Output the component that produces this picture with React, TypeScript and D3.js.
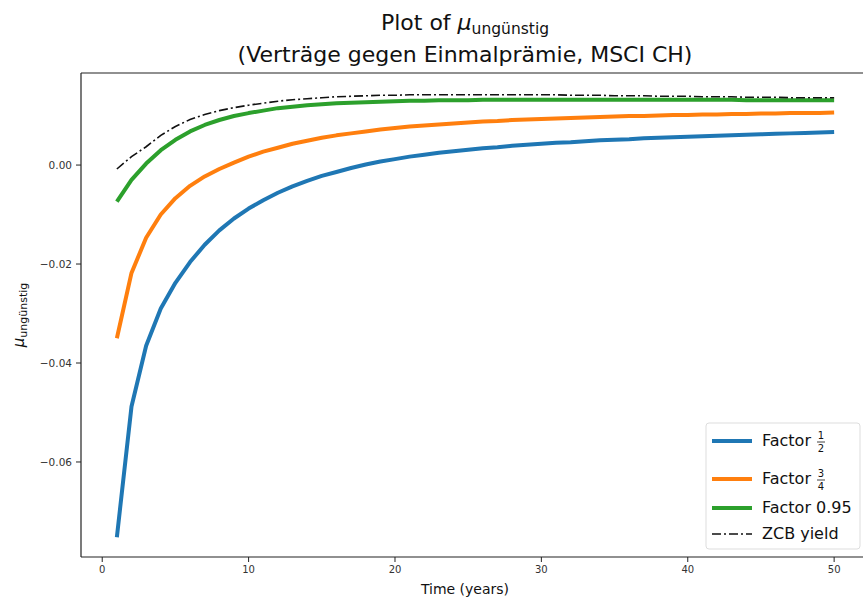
import React from 'react';
import * as d3 from 'd3';

// years 1..50
const years = d3.range(1, 51);

const factorHalf = [
  -0.0752, -0.0488, -0.0365, -0.029, -0.0238, -0.0196, -0.0161, -0.0132, -0.0108, -0.0088,
  -0.0071, -0.0056, -0.0043, -0.0032, -0.0022, -0.0014, -0.0006, 0.0001, 0.0007, 0.0012,
  0.0017, 0.0021, 0.0025, 0.0028, 0.0031, 0.0034, 0.0036, 0.0039, 0.0041, 0.0043,
  0.0045, 0.0046, 0.0048, 0.005, 0.0051, 0.0052, 0.0054, 0.0055, 0.0056, 0.0057,
  0.0058, 0.0059, 0.006, 0.0061, 0.0062, 0.0063, 0.0064, 0.0065, 0.0066, 0.0067,
];

const factorThreeQuarter = [
  -0.035, -0.0218, -0.0147, -0.01, -0.0067, -0.0042, -0.0023, -0.0008, 0.0005, 0.0017,
  0.0027, 0.0035, 0.0043, 0.0049, 0.0055, 0.006, 0.0064, 0.0068, 0.0072, 0.0075,
  0.0078, 0.008, 0.0082, 0.0084, 0.0086, 0.0088, 0.0089, 0.0091, 0.0092, 0.0093,
  0.0094, 0.0095, 0.0096, 0.0097, 0.0098, 0.0099, 0.0099, 0.01, 0.0101, 0.0101,
  0.0102, 0.0102, 0.0103, 0.0103, 0.0104, 0.0104, 0.0105, 0.0105, 0.0105, 0.0106,
];

const factor095 = [
  -0.0074, -0.003, 0.0003, 0.003, 0.0051, 0.0068, 0.0081, 0.0091, 0.0099, 0.0105,
  0.011, 0.0115, 0.0118, 0.0121, 0.0123, 0.0125, 0.0126, 0.0127, 0.0128, 0.0129,
  0.013, 0.013, 0.0131, 0.0131, 0.0131, 0.0132, 0.0132, 0.0132, 0.0132, 0.0132,
  0.0132, 0.0132, 0.0132, 0.0132, 0.0132, 0.0132, 0.0132, 0.0132, 0.0132, 0.0132,
  0.0132, 0.0132, 0.0132, 0.0131, 0.0131, 0.0131, 0.0131, 0.0131, 0.0131, 0.0131,
];

const zcbYield = [
  -0.0008, 0.0017, 0.0037, 0.006, 0.0078, 0.0092, 0.0102, 0.011, 0.0116, 0.0121,
  0.0125, 0.0129, 0.0132, 0.0134, 0.0136, 0.0138, 0.0139, 0.014, 0.0141, 0.0141,
  0.0142, 0.0142, 0.0142, 0.0142, 0.0142, 0.0142, 0.0142, 0.0142, 0.0142, 0.0142,
  0.0142, 0.0141, 0.0141, 0.0141, 0.014, 0.014, 0.014, 0.0139, 0.0139, 0.0139,
  0.0138, 0.0138, 0.0138, 0.0137, 0.0137, 0.0137, 0.0136, 0.0136, 0.0136, 0.0136,
];

const xTicks = [0, 10, 20, 30, 40, 50];
const yTicks = [0.0, -0.02, -0.04, -0.06];

const colors = ['#1f77b4', '#ff7f0e', '#2ca02c'];

const W = 863;
const H = 600;
const plot = { left: 81, top: 73, right: 870, bottom: 557 };
const FONT = 'DejaVu Sans, sans-serif';

export default function App() {
  const x = d3.scaleLinear().domain([-1.45, 52.45]).range([plot.left, plot.right]);
  const y = d3.scaleLinear().domain([-0.0792, 0.0186]).range([plot.bottom, plot.top]);

  const line = d3
    .line<number>()
    .x((_, i) => x(years[i]))
    .y((d) => y(d));

  const series = [factorHalf, factorThreeQuarter, factor095];

  // legend box
  const lx = 706;
  const ly = 423;

  return (
    <svg width={W} height={H} style={{ position: 'absolute', left: 0, top: 0, background: '#fff' }} fontFamily={FONT}>
      <rect width={W} height={H} fill="#fff" />
      <defs>
        <clipPath id="plotclip">
          <rect x={plot.left} y={plot.top} width={plot.right - plot.left} height={plot.bottom - plot.top} />
        </clipPath>
      </defs>

      {/* title */}
      <text x={465} y={30} textAnchor="middle" fontSize={22} fill="#111">
        Plot of <tspan fontStyle="italic">μ</tspan>
        <tspan fontSize={15.5} dy={4}>ungünstig</tspan>
      </text>
      <text x={465} y={62} textAnchor="middle" fontSize={22} fill="#111">
        (Verträge gegen Einmalprämie, MSCI CH)
      </text>

      {/* lines */}
      <g clipPath="url(#plotclip)">
        {series.map((s, i) => (
          <path key={i} d={line(s) || ''} fill="none" stroke={colors[i]} strokeWidth={4} strokeLinejoin="round" />
        ))}
        <path d={line(zcbYield) || ''} fill="none" stroke="#111" strokeWidth={1.6} strokeDasharray="9,3,2,3" />
      </g>

      {/* spines */}
      <line x1={plot.left} x2={plot.left} y1={plot.top} y2={plot.bottom} stroke="#222" strokeWidth={1.2} />
      <line x1={plot.left} x2={plot.right} y1={plot.top} y2={plot.top} stroke="#222" strokeWidth={1.2} />
      <line x1={plot.left} x2={plot.right} y1={plot.bottom} y2={plot.bottom} stroke="#222" strokeWidth={1.2} />

      {/* x axis */}
      {xTicks.map((t) => (
        <g key={t} transform={`translate(${x(t)},${plot.bottom})`}>
          <line y2={5} stroke="#222" />
          <text y={16} textAnchor="middle" fontSize={10} fill="#333">
            {t}
          </text>
        </g>
      ))}
      <text x={465} y={594} textAnchor="middle" fontSize={14} fill="#111">
        Time (years)
      </text>

      {/* y axis */}
      {yTicks.map((t) => (
        <g key={t} transform={`translate(${plot.left},${y(t)})`}>
          <line x2={-5} stroke="#222" />
          <text x={-9} dy="0.35em" textAnchor="end" fontSize={10.5} fill="#333">
            {t === 0 ? '0.00' : '\u2212' + Math.abs(t).toFixed(2)}
          </text>
        </g>
      ))}
      <text transform={`translate(24,${(plot.top + plot.bottom) / 2}) rotate(-90)`} textAnchor="middle" fontSize={15} fill="#111">
        <tspan fontStyle="italic">μ</tspan>
        <tspan fontSize={11} dy={3}>ungünstig</tspan>
      </text>

      {/* legend */}
      <rect x={lx} y={ly} width={154} height={126} rx={3} fill="#fff" fillOpacity={0.8} stroke="#ddd" />
      {[441, 479, 508].map((ry, i) => (
        <line key={i} x1={712} x2={752} y1={ry} y2={ry} stroke={colors[i]} strokeWidth={4} />
      ))}
      <line x1={712} x2={752} y1={534} y2={534} stroke="#111" strokeWidth={1.6} strokeDasharray="9,3,2,3" />

      <text x={762} y={446} fontSize={16} fill="#111">Factor</text>
      <text x={821} y={439} fontSize={10} textAnchor="middle" fill="#111">1</text>
      <line x1={817} x2={825} y1={442} y2={442} stroke="#111" strokeWidth={0.8} />
      <text x={821} y={452} fontSize={10} textAnchor="middle" fill="#111">2</text>

      <text x={762} y={484} fontSize={16} fill="#111">Factor</text>
      <text x={821} y={477} fontSize={10} textAnchor="middle" fill="#111">3</text>
      <line x1={817} x2={825} y1={480} y2={480} stroke="#111" strokeWidth={0.8} />
      <text x={821} y={490} fontSize={10} textAnchor="middle" fill="#111">4</text>

      <text x={762} y={513} fontSize={16} fill="#111">Factor 0.95</text>
      <text x={762} y={539} fontSize={16} fill="#111">ZCB yield</text>
    </svg>
  );
}
